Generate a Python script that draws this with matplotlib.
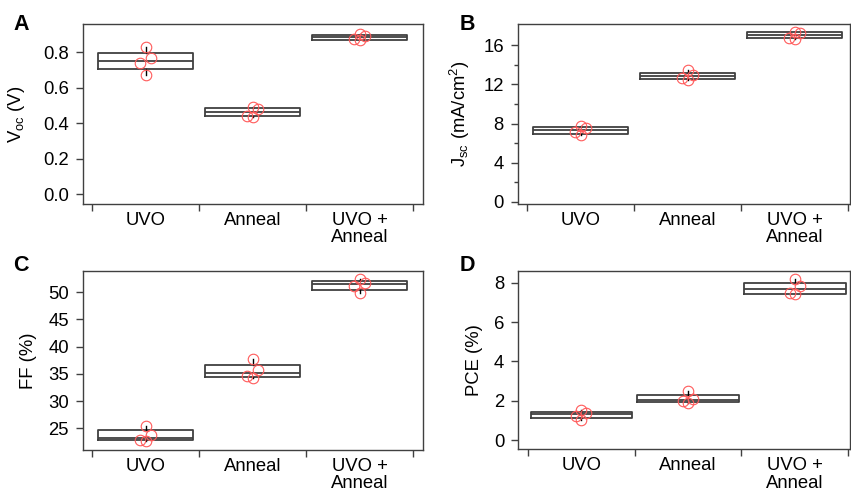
import numpy as np
import matplotlib
matplotlib.use('Agg')
import matplotlib.pyplot as plt

plt.rcParams['font.family'] = ['Liberation Sans', 'DejaVu Sans']
plt.rcParams['mathtext.fontset'] = 'custom'
plt.rcParams['mathtext.rm'] = 'Liberation Sans'
plt.rcParams['mathtext.it'] = 'Liberation Sans:italic'

GROUPS = ['UVO', 'Anneal', 'UVO +\nAnneal']

# four devices per condition
voc_uvo = [0.826, 0.764, 0.736, 0.672]
voc_anneal = [0.490, 0.479, 0.441, 0.434]
voc_both = [0.900, 0.893, 0.873, 0.868]

jsc_uvo = [7.70, 7.55, 7.15, 6.80]
jsc_anneal = [13.45, 12.95, 12.70, 12.45]
jsc_both = [17.40, 17.25, 16.80, 16.65]

ff_uvo = [25.5, 23.7, 22.85, 22.7]
ff_anneal = [37.7, 35.7, 34.6, 34.3]
ff_both = [52.4, 51.8, 51.2, 49.8]

pce_uvo = [1.52, 1.36, 1.24, 1.02]
pce_anneal = [2.49, 2.07, 2.00, 1.90]
pce_both = [8.17, 7.83, 7.49, 7.41]

JITTER = [0.0, 0.047, -0.05, 0.0]

LINE = '#404040'
RED = '#ff5a5a'
FS = 13.3


def draw_panel(ax, groups_vals, width):
    stats = []
    for vals in groups_vals:
        v = np.asarray(vals)
        q1, med, q3 = np.percentile(v, [25, 50, 75], method='midpoint')
        stats.append(dict(med=med, q1=q1, q3=q3, whislo=v.min(),
                          whishi=v.max(), fliers=[]))
    ax.bxp(stats, positions=[1, 2, 3], widths=width, showcaps=False,
           showfliers=False, manage_ticks=False,
           boxprops=dict(color=LINE, linewidth=1.3),
           whiskerprops=dict(color='black', linewidth=1.0),
           medianprops=dict(color=LINE, linewidth=1.3))
    for i, vals in enumerate(groups_vals):
        xs = [i + 1 + j for j in JITTER]
        ax.plot(xs, vals, 'o', ms=7.6, mfc='none', mec=RED, mew=0.8,
                zorder=5)

    for sp in ax.spines.values():
        sp.set_color(LINE)
        sp.set_linewidth(1.0)
    ax.set_xticks([0.5, 1.5, 2.5, 3.5])
    ax.set_xticklabels([])
    ax.set_xticks([1, 2, 3], minor=True)
    ax.set_xticklabels(GROUPS, minor=True, fontsize=FS, linespacing=1.05)
    ax.tick_params(axis='x', which='major', direction='out', length=5,
                   width=1.0, color=LINE)
    ax.tick_params(axis='x', which='minor', length=0, pad=5.5)
    ax.tick_params(axis='y', which='major', direction='out', length=5,
                   width=1.0, color=LINE, labelsize=FS, pad=5)
    ax.tick_params(axis='y', which='minor', direction='out', length=3,
                   width=1.0, color=LINE)


fig = plt.figure(figsize=(8.51, 4.96), dpi=100)

ax_a = fig.add_axes([0.0972, 0.5887, 0.3999, 0.3629])
ax_b = fig.add_axes([0.6083, 0.5887, 0.3905, 0.3623])
ax_c = fig.add_axes([0.0972, 0.0927, 0.3999, 0.3615])
ax_d = fig.add_axes([0.6090, 0.0942, 0.3898, 0.3600])

draw_panel(ax_a, [voc_uvo, voc_anneal, voc_both], 0.89)
ax_a.set_xlim(0.413, 3.593)
ax_a.set_ylim(-0.056, 0.958)
ax_a.set_yticks([0.0, 0.2, 0.4, 0.6, 0.8])
ax_a.set_yticklabels(['0.0', '0.2', '0.4', '0.6', '0.8'])
ax_a.set_ylabel(r'V$_{\mathregular{oc}}$ (V)', fontsize=FS)
ax_a.yaxis.set_label_coords(-0.165, 0.5)

draw_panel(ax_b, [jsc_uvo, jsc_anneal, jsc_both], 0.89)
ax_b.set_xlim(0.41, 3.516)
ax_b.set_ylim(-0.24, 18.16)
ax_b.set_yticks([0, 4, 8, 12, 16])
ax_b.set_yticks([2, 6, 10, 14], minor=True)
ax_b.set_ylabel(r'J$_{\mathregular{sc}}$ (mA/cm$^{\mathregular{2}}$)', fontsize=FS)
ax_b.yaxis.set_label_coords(-0.138, 0.5)

draw_panel(ax_c, [ff_uvo, ff_anneal, ff_both], 0.89)
ax_c.set_xlim(0.413, 3.593)
ax_c.set_ylim(21.0, 53.97)
ax_c.set_yticks([25, 30, 35, 40, 45, 50])
ax_c.set_ylabel('FF (%)', fontsize=FS)
ax_c.yaxis.set_label_coords(-0.135, 0.5)

draw_panel(ax_d, [pce_uvo, pce_anneal, pce_both], 0.95)
ax_d.set_xlim(0.41, 3.516)
ax_d.set_ylim(-0.47, 8.61)
ax_d.set_yticks([0, 2, 4, 6, 8])
ax_d.set_ylabel('PCE (%)', fontsize=FS)
ax_d.yaxis.set_label_coords(-0.105, 0.5)

for letter, x, y in [('A', 13, 30), ('B', 460, 30), ('C', 13, 271), ('D', 460, 271)]:
    fig.text(x / 851, 1 - y / 496, letter, fontsize=15.5, fontweight='bold',
             ha='left', va='baseline')

fig.savefig('out.png', dpi=100)
